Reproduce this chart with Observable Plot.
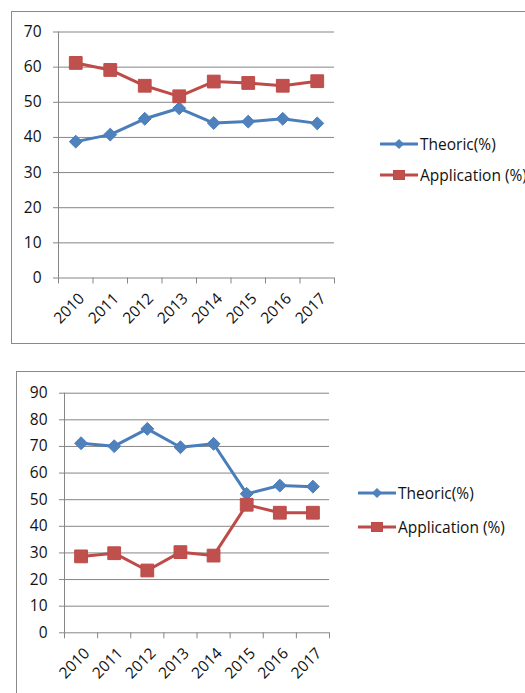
<!DOCTYPE html>
<html>
<head>
<meta charset="utf-8">
<script src="https://cdn.jsdelivr.net/npm/d3@7"></script>
<script src="https://cdn.jsdelivr.net/npm/@observablehq/plot@0.6"></script>
<style>
  html, body { margin: 0; padding: 0; background: #fff; }
  body { width: 525px; height: 693px; overflow: hidden; position: relative; font-family: "Open Sans", sans-serif; }
  .box { position: absolute; border: 1.5px solid #8a8a8a; box-sizing: border-box; pointer-events: none; }
  .chart { position: absolute; left: 0; }
  .legend { position: absolute; font-size: 15.5px; color: #111; white-space: nowrap; }
  .legend .item { position: absolute; left: 0; display: flex; align-items: center; height: 20px; }
  .legend svg { display: block; }
</style>
</head>
<body>
<script>
const years = [2010, 2011, 2012, 2013, 2014, 2015, 2016, 2017];
const seriesNames = ["Theoric(%)", "Application (%)"];

// Chart 1
const theoric1 = [38.8, 40.8, 45.3, 48.3, 44.1, 44.5, 45.3, 44.0];
const application1 = [61.2, 59.2, 54.7, 51.7, 55.9, 55.5, 54.7, 56.0];
const yTicks1 = [0, 10, 20, 30, 40, 50, 60, 70];

// Chart 2
const theoric2 = [71.2, 70.1, 76.6, 69.7, 71.0, 52.2, 55.3, 54.9];
const application2 = [28.7, 29.9, 23.4, 30.3, 29.0, 48.1, 45.1, 45.1];
const yTicks2 = [0, 10, 20, 30, 40, 50, 60, 70, 80, 90];

const blue = "#4A7EBB", blueFill = "#4F81BD";
const red = "#BE4B48", redFill = "#C0504D";
const gray = "#868686";
const FONT = "'Open Sans', sans-serif";

function makeChart({theoric, application, yTicks, width, height, marginLeft, marginRight, marginTop, marginBottom}) {
  const data = [];
  years.forEach((yr, i) => {
    data.push({year: yr, value: theoric[i], series: seriesNames[0]});
    data.push({year: yr, value: application[i], series: seriesNames[1]});
  });
  const bounds = years.map(y => y - 0.5).concat([years[years.length - 1] + 0.5]);
  const yMax = yTicks[yTicks.length - 1];
  const th = data.filter(d => d.series === seriesNames[0]);
  const ap = data.filter(d => d.series === seriesNames[1]);
  return Plot.plot({
    width, height, marginLeft, marginRight, marginTop, marginBottom,
    style: {background: "transparent", fontFamily: FONT, fontSize: "15.5px", color: "#111", overflow: "visible"},
    x: {type: "linear", domain: [bounds[0], bounds[bounds.length - 1]]},
    y: {domain: [0, yMax]},
    marks: [
      Plot.ruleY(yTicks, {stroke: gray, strokeWidth: 1}),
      Plot.ruleX([bounds[0]], {y1: 0, y2: yMax, stroke: gray, strokeWidth: 1}),
      Plot.axisY({ticks: yTicks, tickSize: 5, tickPadding: 12, stroke: gray, label: null, fontSize: 15.5}),
      Plot.axisX({ticks: bounds, tickSize: 6, tickFormat: () => "", stroke: gray, label: null}),
      Plot.axisX({ticks: years, tickSize: 0, tickRotate: -45, tickPadding: 10, dx: 6, dy: 8, tickFormat: d => String(d), label: null, fontSize: 15.5}),
      Plot.line(th, {x: "year", y: "value", stroke: blue, strokeWidth: 3}),
      Plot.line(ap, {x: "year", y: "value", stroke: red, strokeWidth: 3}),
      Plot.dot(th, {x: "year", y: "value", symbol: "diamond2", r: 5.8, fill: blueFill, stroke: blue, strokeWidth: 1}),
      Plot.dot(ap, {x: "year", y: "value", symbol: "square", r: 7.2, fill: redFill, stroke: red, strokeWidth: 1})
    ]
  });
}

function legendSvg(kind) {
  const s = kind === 0
    ? `<line x1="0" y1="7" x2="38" y2="7" stroke="${blue}" stroke-width="3"/><path d="M19,2.5L23.5,7L19,11.5L14.5,7Z" fill="${blueFill}" stroke="${blue}"/>`
    : `<line x1="0" y1="7" x2="38" y2="7" stroke="${red}" stroke-width="3"/><rect x="13.5" y="2.5" width="11" height="9" fill="${redFill}" stroke="${red}"/>`;
  return `<svg width="38" height="14">${s}</svg>`;
}

function addLegend(left, yCenters) {
  const div = document.createElement("div");
  div.className = "legend";
  div.style.left = left + "px";
  div.style.top = "0px";
  seriesNames.forEach((name, i) => {
    const it = document.createElement("div");
    it.className = "item";
    it.style.top = (yCenters[i] - 10) + "px";
    it.innerHTML = legendSvg(i) + `<span style="margin-left:2px">${name}</span>`;
    div.appendChild(it);
  });
  document.body.appendChild(div);
}

function addBox(left, top, w, h) {
  const b = document.createElement("div");
  b.className = "box";
  Object.assign(b.style, {left: left + "px", top: top + "px", width: w + "px", height: h + "px"});
  document.body.appendChild(b);
}

// Chart 1: plot area x 58..334, y 31.5..277.5
const c1 = makeChart({theoric: theoric1, application: application1, yTicks: yTicks1,
  width: 345, height: 343, marginLeft: 58, marginRight: 11, marginTop: 31.5, marginBottom: 65.5});
c1.classList.add("chart");
c1.style.top = "0px";
document.body.appendChild(c1);

// Chart 2: plot area x 64..329, y 392.7..632.3 (svg top 345)
const c2 = makeChart({theoric: theoric2, application: application2, yTicks: yTicks2,
  width: 340, height: 348, marginLeft: 64, marginRight: 11, marginTop: 47.7, marginBottom: 60.7});
c2.classList.add("chart");
c2.style.top = "345px";
document.body.appendChild(c2);

addLegend(380, [144, 175]);
addLegend(358, [493.3, 526.7]);

addBox(11, 11, 600, 333);
addBox(15.5, 370.5, 600, 400);
</script>
</body>
</html>
